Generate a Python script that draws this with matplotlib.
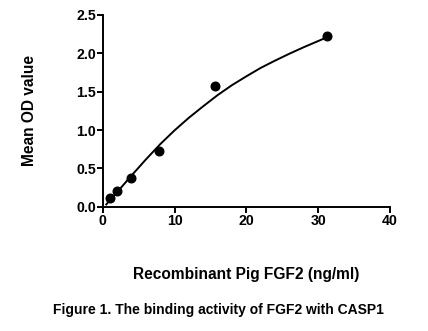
import numpy as np
import matplotlib
matplotlib.use("Agg")
import matplotlib.pyplot as plt

plt.rcParams['font.family'] = ['Liberation Sans', 'DejaVu Sans']
plt.rcParams['font.weight'] = 'bold'

# measured points
conc = [0.98, 1.95, 3.9, 7.8, 15.6, 31.25]
od = [0.11, 0.21, 0.37, 0.72, 1.57, 2.22]

# fitted curve
curve_x = [0.5, 1, 2, 4, 6, 8, 10, 12, 14, 16, 18, 20, 22, 24, 26, 28, 30, 31.25]
curve_y = [0.03, 0.085, 0.19, 0.405, 0.615, 0.815, 0.995, 1.16, 1.31, 1.455,
           1.585, 1.70, 1.81, 1.905, 1.995, 2.08, 2.16, 2.21]

xticks = [0, 10, 20, 30, 40]
yticks = [0.0, 0.5, 1.0, 1.5, 2.0, 2.5]

fig = plt.figure(figsize=(4.28, 3.31), dpi=100)
ax = fig.add_axes([0.24, 0.3755, 0.671, 0.5792])

ax.plot(curve_x, curve_y, color='black', lw=1.4)
ax.plot(conc, od, 'o', color='black', ms=6.2)

ax.set_xlim(0, 40)
ax.set_ylim(0, 2.5)
ax.set_xticks(xticks)
ax.set_yticks(yticks)
ax.set_yticklabels([f"{v:.1f}" for v in yticks])

for s in ['top', 'right']:
    ax.spines[s].set_visible(False)
for s in ['left', 'bottom']:
    ax.spines[s].set_linewidth(1.4)
    ax.spines[s].set_clip_on(False)
ax.tick_params(width=1.4, length=4, labelsize=10.2, pad=1)
for lab in ax.get_xticklabels() + ax.get_yticklabels():
    lab.set_fontweight('bold')

ax.set_ylabel('Mean OD value', fontsize=11.2, fontweight='bold', labelpad=28)
ax.set_xlabel('Recombinant Pig FGF2 (ng/ml)', fontsize=11.2, fontweight='bold', labelpad=28)

fig.text(0.51, 0.063, 'Figure 1. The binding activity of FGF2 with CASP1',
         ha='center', va='center', fontsize=10, fontweight='bold')

fig.savefig('out.png', dpi=100)
